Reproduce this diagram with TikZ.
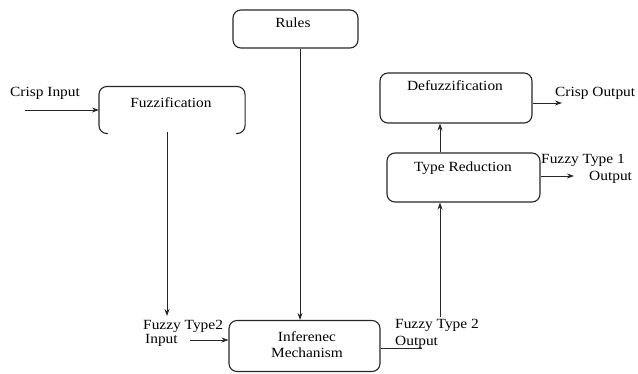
\documentclass[tikz,border=0pt]{standalone}
\usepackage{fontspec}
\setmainfont[FakeStretch=1.1]{Liberation Serif}
\usetikzlibrary{arrows.meta}
\begin{document}
\begin{tikzpicture}[x=1pt,y=-1pt,
  blk/.style={draw=black!85,line width=1.1pt,rounded corners=8pt,inner sep=0pt},
  openblk/.style={line width=1.1pt,rounded corners=8pt,inner sep=0pt},
  lbl/.style={font=\fontsize{14}{15}\selectfont,inner sep=0pt},
  arr/.style={draw=black!85,line width=0.9pt,-{Stealth[length=7pt,width=5pt]}},
  ln/.style={draw=black!85,line width=0.9pt}]
\useasboundingbox (0,0) rectangle (638,373);
% processing blocks
\node[blk,minimum width=125pt,minimum height=38pt] (rules) at (295.5,29) {};
\node[openblk,minimum width=145pt,minimum height=46pt] (fuzz) at (172,110) {};
\node[blk,minimum width=152pt,minimum height=50pt] (defuzz) at (456,98) {};
\node[blk,minimum width=153pt,minimum height=49pt] (tred) at (463.5,177.5) {};
\node[blk,minimum width=151pt,minimum height=51pt] (infer) at (304.5,346) {};
% the fuzzification block has no bottom edge, only its curled corners
\draw[draw=black!85,line width=1.1pt,rounded corners=8pt]
  ([xshift=9pt]fuzz.south west) -- (fuzz.south west) -- (fuzz.north west)
  -- (fuzz.north east) -- (fuzz.south east) -- ([xshift=-9pt]fuzz.south east);
% block titles
\node[lbl] (trules) at (293,23) {Rules};
\node[lbl] (tfuzz) at (171,103) {Fuzzification};
\node[lbl] (tdefuzz) at (455,86) {Defuzzification};
\node[lbl] (ttred) at (463,168) {Type Reduction};
\node[lbl] (tinf1) at (307,337) {Inferenec};
\node[lbl] (tinf2) at (307,353) {Mechanism};
% signal labels
\node[lbl,anchor=west] (lcin) at (10,93) {Crisp Input};
\node[lbl,anchor=west] (lcout) at (555,93) {Crisp Output};
\node[lbl,anchor=west] (lft1) at (541,160) {Fuzzy Type 1};
\node[lbl,anchor=west] (lft1b) at (589,177) {Output};
\node[lbl,anchor=west] (lft2in) at (143,326) {Fuzzy Type2};
\node[lbl,anchor=west] (lft2inb) at (145,340) {Input};
\node[lbl,anchor=west] (lft2out) at (395,325) {Fuzzy Type 2};
\node[lbl,anchor=west] (lft2outb) at (395,342) {Output};
% free ends of connectors
\coordinate (cin) at (25,110);
\coordinate (fdown) at (167,316);
\coordinate (inpstart) at (190,340);
\coordinate (outend) at (422,348);
\coordinate (upstart) at (440,317);
\coordinate (cout) at (562,103);
\coordinate (ft1) at (574,176);
% connectors
\draw[arr] (cin) -- (cin -| fuzz.west);
\draw[arr] ([yshift=2pt]fuzz.south -| fdown) -- (fdown);
\draw[arr] (rules.south -| 300,0) -- (infer.north -| 300,0);
\draw[arr] (inpstart) -- (inpstart -| infer.west);
\draw[ln] (outend -| infer.east) -- (outend);
\draw[arr] (upstart) -- (upstart |- tred.south);
\draw[arr] (tred.north -| upstart) -- (defuzz.south -| upstart);
\draw[arr] (cout -| defuzz.east) -- (cout);
\draw[arr] (ft1 -| tred.east) -- (ft1);
\end{tikzpicture}
\end{document}
